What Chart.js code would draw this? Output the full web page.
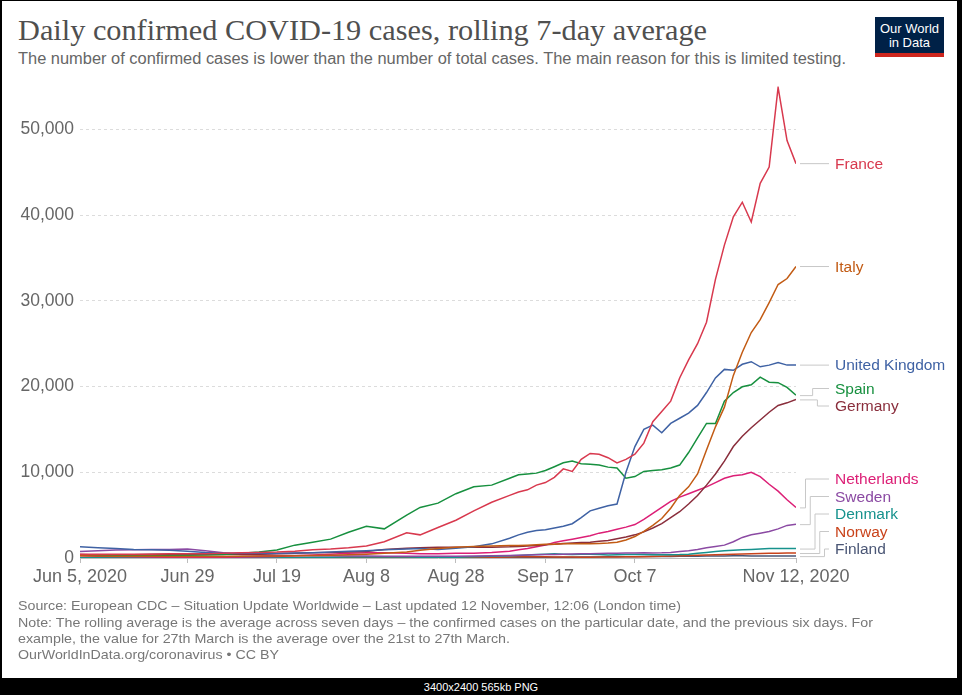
<!DOCTYPE html>
<html><head><meta charset="utf-8">
<script src="https://cdn.jsdelivr.net/npm/chart.js@4.4.0/dist/chart.umd.min.js"></script>
<style>
html,body{margin:0;padding:0;background:#000;width:962px;height:695px;overflow:hidden;position:relative;}
#frame{position:absolute;left:2px;top:1px;width:955px;height:677px;background:#fff;}
.t{position:absolute;white-space:nowrap;transform-origin:0 0;line-height:1;}
#title{left:18px;top:16px;font-family:'Liberation Serif','DejaVu Serif',serif;font-size:29px;color:#4f4f4f;}
#subtitle{left:18px;top:51px;font-family:'Liberation Sans',Arial,sans-serif;font-size:16px;color:#666;}
.foot{left:18px;font-family:'Liberation Sans',Arial,sans-serif;font-size:13px;color:#777;}
#logo{position:absolute;left:875px;top:17px;width:69px;height:40px;background:#002147;color:#fff;font-family:'Liberation Sans',Arial,sans-serif;font-size:13px;line-height:14px;text-align:center;box-sizing:border-box;padding-top:5px;}
#logo .bar{position:absolute;left:0;bottom:0;width:100%;height:4px;background:#ce261e;}
#cv{position:absolute;left:0;top:70px;}
#bottomtxt{position:absolute;left:0;width:962px;top:681px;text-align:center;color:#fff;font-family:'Liberation Sans',Arial,sans-serif;font-size:11px;}
</style></head>
<body>
<div id="frame"></div>
<div class="t" id="title" data-w="689">Daily confirmed COVID-19 cases, rolling 7-day average</div>
<div class="t" id="subtitle" data-w="828">The number of confirmed cases is lower than the number of total cases. The main reason for this is limited testing.</div>
<div id="logo">Our World<br>in Data<div class="bar"></div></div>
<canvas id="cv" width="962" height="540"></canvas>
<div class="t foot" style="top:599px" data-w="663">Source: European CDC – Situation Update Worldwide – Last updated 12 November, 12:06 (London time)</div>
<div class="t foot" style="top:616px" data-w="855">Note: The rolling average is the average across seven days – the confirmed cases on the particular date, and the previous six days. For</div>
<div class="t foot" style="top:632px" data-w="492">example, the value for 27th March is the average over the 21st to 27th March.</div>
<div class="t foot" style="top:648px" data-w="261">OurWorldInData.org/coronavirus • CC BY</div>
<div id="bottomtxt">3400x2400 565kb PNG</div>
<script>
// Days since Jun 5, 2020
const days = [0,4,8,12,16,20,24,28,32,36,40,44,48,52,56,60,64,68,73,76,80,84,88,92,96,
  98,100,102,104,106,108,110,112,114,116,118,120,122,124,126,128,130,132,134,136,138,140,142,144,146,148,150,152,154,156,158,160];

const france = [450,450,450,450,450,500,500,500,550,600,650,700,800,950,1050,1200,1400,1900,2950,2700,3550,4400,5500,6500,7300,
  7700,7950,8500,8800,9400,10400,10100,11500,12200,12100,11700,11100,11500,12100,13400,15900,17100,18300,21000,23100,25000,27500,32500,36500,39800,41500,39200,43700,45600,54900,48700,46000];
const italy = [250,220,200,200,190,180,170,170,180,200,220,230,250,280,320,380,450,550,700,900,1100,1250,1350,1400,1450,
  1450,1500,1550,1600,1600,1650,1650,1650,1650,1700,1750,1850,2100,2500,3100,3800,4600,5800,7300,8300,9800,12600,15300,17600,21300,24000,26300,27800,29800,31900,32600,34000];
const uk = [1300,1200,1100,1000,950,900,800,650,550,550,550,550,570,620,700,780,850,950,1050,1100,1000,1150,1300,1650,2300,
  2700,3000,3200,3300,3500,3700,4000,4700,5500,5800,6100,6300,10000,13000,15000,15500,14600,15700,16300,16900,17800,19300,21000,22000,21900,22600,22900,22300,22500,22800,22500,22500];
const spain = [350,330,320,300,300,300,320,350,400,550,700,930,1500,1850,2200,3000,3700,3400,5000,5900,6400,7500,8300,8500,9300,
  9700,9800,9900,10200,10650,11100,11300,11000,10950,10850,10600,10500,9300,9500,10100,10200,10300,10500,10840,12300,14000,15700,15700,18300,19300,19970,20200,21100,20500,20450,19900,19000];
const germany = [400,350,330,380,450,450,420,420,400,420,450,500,550,600,650,700,750,1000,1150,1200,1250,1250,1250,1250,1300,
  1350,1400,1450,1550,1600,1700,1750,1800,1850,1950,2050,2250,2450,2700,3050,3500,4000,4700,5400,6300,7300,8500,9800,11300,13000,14200,15200,16100,17000,17800,18100,18500];
const netherlands = [250,200,180,150,120,100,90,90,100,120,150,180,250,350,450,550,600,600,550,500,500,550,550,650,800,
  950,1100,1300,1500,1800,2000,2200,2400,2600,2900,3100,3350,3600,3900,4500,5200,5900,6600,7100,7500,7900,8300,8800,9300,9600,9700,10000,9500,8600,7800,6800,5900];
const sweden = [750,850,930,950,1000,1000,1050,850,600,400,350,300,280,250,250,230,220,200,200,200,200,200,220,250,300,
  320,350,380,400,420,450,480,500,500,520,550,550,580,580,600,580,600,650,750,850,1000,1200,1350,1500,1900,2400,2700,2900,3100,3400,3800,3950];
const denmark = [40,35,30,30,30,25,20,20,20,30,40,50,60,80,100,110,120,130,130,100,80,100,150,200,250,
  300,350,400,450,500,450,420,450,450,400,350,370,400,420,400,380,380,380,400,450,550,650,750,850,900,950,1000,1050,1100,1100,1100,1100];
const norway = [15,12,12,10,10,10,12,12,12,12,15,15,20,30,50,60,70,70,60,55,50,60,80,100,120,
  140,150,150,140,130,120,110,100,100,110,120,130,140,150,160,180,200,220,250,280,320,350,370,400,430,470,500,520,550,560,570,580];
const finland = [15,12,10,8,8,8,8,10,10,12,15,15,15,18,20,25,25,25,25,25,25,30,35,45,55,
  60,70,75,75,80,90,100,110,120,130,140,150,160,160,170,170,180,180,190,200,210,220,230,240,250,250,240,230,220,220,220,220];

const countries = ['France','Italy','United Kingdom','Spain','Germany','Netherlands','Sweden','Denmark','Norway','Finland'];
const seriesValues = [france, italy, uk, spain, germany, netherlands, sweden, denmark, norway, finland];
const colors = ['#d8394e','#c25b14','#3f62a4','#17903f','#8a2e3c','#dc1f76','#8b4aa3','#17928d','#c9431b','#4a5675'];

const xTickDays = [0,24,44,64,84,104,124,160];
const xTickLabels = ['Jun 5, 2020','Jun 29','Jul 19','Aug 8','Aug 28','Sep 17','Oct 7','Nov 12, 2020'];
const yTickValues = [0,10000,20000,30000,40000,50000];

const SANS = "'Liberation Sans', Arial, sans-serif";

const endLabels = {
  id: 'endLabels',
  afterDatasetsDraw(chart) {
    const ctx = chart.ctx, xs = chart.scales.x, ys = chart.scales.y;
    const gap = 17.5, bottomLimit = ys.bottom - 9;
    const items = chart.data.datasets.map(ds => {
      const last = ds.data[ds.data.length - 1];
      return {name: ds.label, color: ds.borderColor, ex: xs.getPixelForValue(last.x), ey: ys.getPixelForValue(last.y)};
    }).sort((a, b) => a.ey - b.ey);
    let groups = items.map(it => ({items: [it]}));
    const place = g => {
      const n = g.items.length;
      const mean = g.items.reduce((s, i) => s + i.ey, 0) / n;
      g.top = Math.min(mean - (n - 1) * gap / 2, bottomLimit - (n - 1) * gap);
    };
    groups.forEach(place);
    let merged = true;
    while (merged) {
      merged = false;
      for (let i = 1; i < groups.length; i++) {
        const a = groups[i - 1], b = groups[i];
        if (b.top < a.top + a.items.length * gap) {
          a.items = a.items.concat(b.items); place(a);
          groups.splice(i, 1); merged = true; break;
        }
      }
    }
    ctx.save();
    ctx.font = '15.5px ' + SANS;
    ctx.textBaseline = 'middle';
    ctx.lineWidth = 1;
    const labelX = xs.right + 39;
    groups.forEach(g => {
      const n = g.items.length;
      g.items.forEach((it, k) => {
        const ly = g.top + k * gap;
        const x0 = it.ex + 4, x1 = labelX - 6;
        ctx.strokeStyle = '#c8c8c8';
        ctx.beginPath();
        if (Math.abs(ly - it.ey) < 1.5) {
          ctx.moveTo(x0, ly); ctx.lineTo(x1, ly);
        } else {
          const ex = xs.right + 19 + (k - (n - 1) / 2) * 4.75;
          ctx.moveTo(x0, it.ey + 0.5); ctx.lineTo(ex, it.ey + 0.5);
          ctx.lineTo(ex, ly); ctx.lineTo(x1, ly);
        }
        ctx.stroke();
        ctx.fillStyle = it.color;
        ctx.fillText(it.name, labelX, ly + 1);
      });
    });
    ctx.restore();
  }
};

const datasets = countries.map((name, i) => ({
  label: name,
  data: days.map((d, j) => ({x: d, y: seriesValues[i][j]})),
  borderColor: colors[i],
  backgroundColor: colors[i],
  borderWidth: 1.5,
  pointRadius: 0,
  tension: 0,
  fill: false
}));

new Chart(document.getElementById('cv'), {
  type: 'line',
  data: {datasets},
  options: {
    responsive: false, animation: false, devicePixelRatio: 1,
    layout: {padding: {left: 10, right: 166, top: 16, bottom: 22}},
    plugins: {legend: {display: false}, tooltip: {enabled: false}},
    scales: {
      x: {
        type: 'linear', min: 0, max: 160,
        afterBuildTicks: s => { s.ticks = xTickDays.map(v => ({value: v})); },
        afterFit: s => { s.height = 30; },
        ticks: {autoSkip: false, maxRotation: 0, padding: 3, color: '#666',
          font: {family: SANS, size: 18},
          callback: v => xTickLabels[xTickDays.indexOf(v)]},
        grid: {drawOnChartArea: false, drawTicks: true, tickLength: 5, color: '#bdbdbd'},
        border: {display: true, color: '#bdbdbd'}
      },
      y: {
        min: 0, max: 55000,
        afterBuildTicks: s => { s.ticks = yTickValues.map(v => ({value: v})); },
        afterFit: s => { s.width = 70; },
        ticks: {padding: 6, color: '#666', font: {family: SANS, size: 17.5},
          callback: v => v.toLocaleString('en-US')},
        grid: {color: '#dcdcdc', drawTicks: false},
        border: {display: false, dash: [3, 3]}
      }
    }
  },
  plugins: [endLabels]
});

function fit() {
  document.querySelectorAll('[data-w]').forEach(el => {
    el.style.transform = 'none';
    const w = el.getBoundingClientRect().width;
    el.style.transform = 'scaleX(' + (parseFloat(el.dataset.w) / w) + ')';
  });
}
fit();
if (document.fonts && document.fonts.ready) document.fonts.ready.then(fit);
</script>
</body></html>
